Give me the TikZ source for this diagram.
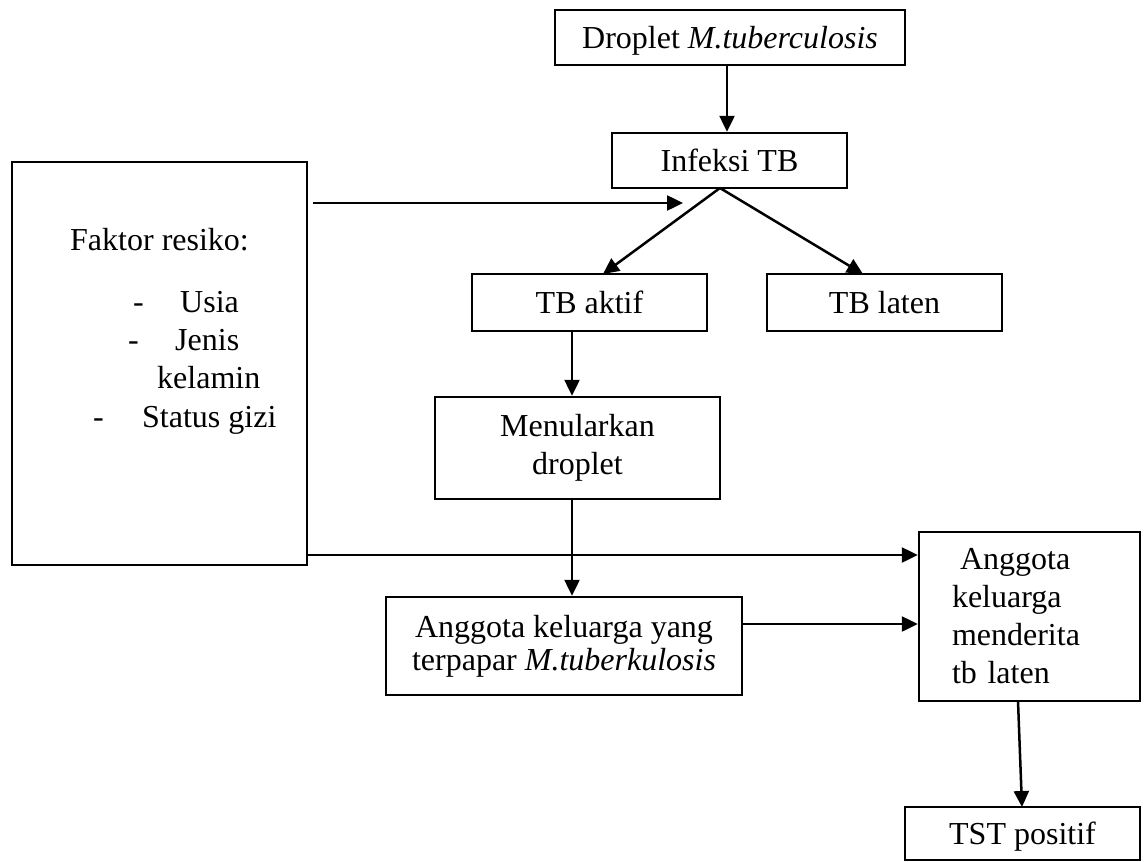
\documentclass[tikz,border=0pt]{standalone}
\usepackage{fontspec}
\setmainfont{Liberation Serif}
\usetikzlibrary{arrows.meta}
\begin{document}
\begin{tikzpicture}[x=1pt,y=-1pt,
  box/.style={draw,line width=2.5pt,rectangle,inner sep=0pt,align=center,
    font=\fontsize{32}{38}\selectfont},
  one/.style={box,text depth=0pt},
  lbl/.style={inner sep=0pt,anchor=base west,font=\fontsize{32}{38}\selectfont},
  arr/.style={line width=2.5pt,-{Triangle[length=16pt,width=15pt]}}]
\useasboundingbox (0,0) rectangle (1144,862);

% boxes
\node[one,minimum width=350pt,minimum height=55pt] (drop) at (730,37.5) {Droplet \textit{M.tuberculosis}};
\node[one,minimum width=235pt,minimum height=55pt] (inf) at (729.5,160.5) {Infeksi TB};
\node[box,minimum width=295pt,minimum height=403pt] (fak) at (159.5,363.5) {};
\node[one,minimum width=235pt,minimum height=57pt] (akt) at (589.5,302.5) {TB aktif};
\node[one,minimum width=235pt,minimum height=57pt] (lat) at (884.5,302.5) {TB laten};
\node[box,minimum width=285pt,minimum height=102pt] (men) at (577.5,448) {Menularkan\\droplet};
\node[box,minimum width=356pt,minimum height=98pt,font=\fontsize{32}{33}\selectfont] (ang) at (564,646) {Anggota keluarga yang\\terpapar \textit{M.tuberkulosis}};
\node[box,minimum width=221pt,minimum height=169pt,text width=155pt,inner xsep=33pt,align=left] (mend) at (1029.5,616.5) {\hspace*{8pt}Anggota\\keluarga\\menderita\\tb laten};
\node[one,minimum width=235pt,minimum height=53pt] (tst) at (1022.5,833.5) {TST positif};

% text in risk-factor box
\node[lbl] (f0) at (70,250) {Faktor resiko:};
\node[lbl] (f1d) at (133,312) {-};
\node[lbl] (f1) at (180,312) {Usia};
\node[lbl] (f2d) at (128,350) {-};
\node[lbl] (f2) at (175,350) {Jenis};
\node[lbl] (f2b) at (157,388) {kelamin};
\node[lbl] (f3d) at (93,427) {-};
\node[lbl] (f3) at (142,427) {Status gizi};

% guide coordinates
\coordinate (dx) at (727,0);
\coordinate (hs) at (313,203);
\coordinate (he) at (683,203);
\coordinate (apex) at (720,188);
\coordinate (ta) at (603,274);
\coordinate (tl) at (863,274);
\coordinate (vx) at (572,0);
\coordinate (y1) at (0,555);
\coordinate (y2) at (0,624);
\coordinate (ms) at (1018,701);
\coordinate (tn) at (1022,807);

% connectors
\draw[arr] (drop.south -| dx) -- (inf.north -| dx);
\draw[arr] (hs) -- (he);
\draw[arr] (apex) -- (ta);
\draw[arr] (apex) -- (tl);
\draw[arr] (akt.south -| vx) -- (men.north -| vx);
\draw[arr] (men.south -| vx) -- (ang.north -| vx);
\draw[arr] (fak.east |- y1) -- (mend.west |- y1);
\draw[arr] (ang.east |- y2) -- (mend.west |- y2);
\draw[arr] (ms) -- (tn);
\end{tikzpicture}
\end{document}
